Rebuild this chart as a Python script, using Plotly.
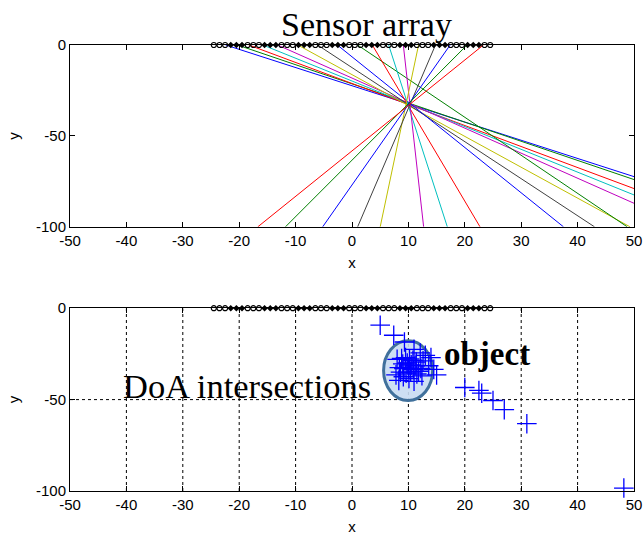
import plotly.graph_objects as go
from plotly.subplots import make_subplots

# ---------------- data ----------------
# DoA rays in the top panel: x where each ray leaves the array (y=0) and x where it reaches y=-100
ray_top_x = [-22.4, -20.3, -18.3, -15.8, -13.2, -9.6, -6.1, -2.6, 1.0, 3.6, 6.5, 9.1, 11.8, 14.8, 17.4, 20.4, 23.3]
ray_bottom_x = [77.6, 74.7, 68.2, 64.0, 59.4, 49.3, 43.0, 37.5, 48.8, 22.7, 16.9, 12.7, 5.0, 1.0, -5.2, -11.8, -16.7]
ray_colors = ["#0000FF", "#008000", "#FF0000", "#00BFBF", "#BF00BF", "#BFBF00", "#404040",
              "#0000FF", "#008000", "#FF0000", "#00BFBF", "#BF00BF", "#BFBF00", "#404040",
              "#0000FF", "#008000", "#FF0000"]
ray_y_top = 0
ray_y_bottom = -100

# sensor array elements (y = 0)
sensor_circle_x = [-24.5, -23.5, -22.5, -18.5, -17.5, -16.5, -12.5, -11.5, -10.5, -6.5, -5.5, -4.5,
                   -0.5, 0.5, 1.5, 5.5, 6.5, 7.5, 11.5, 12.5, 13.5, 17.5, 18.5, 19.5, 23.5, 24.5]
sensor_diamond_x = [-21.5, -20.5, -19.5, -15.5, -14.5, -13.5, -9.5, -8.5, -7.5, -3.5, -2.5, -1.5,
                    2.5, 3.5, 4.5, 8.5, 9.5, 10.5, 14.5, 15.5, 16.5, 20.5, 21.5, 22.5]

# DoA intersection points in the bottom panel
inter_x = [5.0, 7.4, 9.3,
           11.0, 12.1, 13.0, 14.0, 12.6, 13.6, 14.5, 15.0, 12.2,
           8.0, 8.8, 9.5, 10.2, 10.8, 11.4, 9.0, 9.8, 10.5, 11.2, 8.4, 9.2, 10.0, 10.9, 11.8,
           8.6, 9.6, 10.4, 11.5, 12.4, 7.8, 9.1, 10.1, 8.3, 11.0,
           20.0, 22.5, 23.0, 25.0, 27.0, 31.0, 48.2]
inter_y = [-9.3, -14.8, -18.5,
           -22.5, -24.5, -25.8, -27.0, -28.8, -31.5, -33.5, -36.5, -33.0,
           -28.0, -27.5, -27.0, -27.8, -28.5, -29.5, -30.5, -30.0, -31.0, -31.5, -32.5, -33.0, -32.8, -33.5, -34.5,
           -35.0, -35.5, -35.0, -36.0, -37.0, -36.5, -37.5, -38.5, -39.5, -40.0,
           -43.4, -45.0, -46.5, -50.5, -55.5, -63.2, -98.4]

x_ticks = [-50, -40, -30, -20, -10, 0, 10, 20, 30, 40, 50]
x_tick_labels = ["-50", "-40", "-30", "-20", "-10", "0", "10", "20", "30", "40", "50"]
y_ticks = [-100, -50, 0]
y_tick_labels = ["-100", "-50", "0"]
grid_x = [-40, -30, -20, -10, 0, 10, 20, 30, 40]
grid_y = [-50]

# ---------------- figure ----------------
fig = make_subplots(rows=2, cols=1)
TOP_DOMAIN = [0.5923, 1.0]
BOT_DOMAIN = [0.0, 0.4099]

for xt, xb, c in zip(ray_top_x, ray_bottom_x, ray_colors):
    fig.add_trace(go.Scatter(x=[xt, xb], y=[ray_y_top, ray_y_bottom], mode="lines",
                             line=dict(color=c, width=1), showlegend=False, hoverinfo="skip"),
                  row=1, col=1)

for r in (1, 2):
    fig.add_trace(go.Scatter(x=sensor_circle_x, y=[0] * len(sensor_circle_x), mode="markers",
                             marker=dict(symbol="circle-open", size=5, color="black", line=dict(width=1.2)),
                             cliponaxis=False, showlegend=False), row=r, col=1)
    fig.add_trace(go.Scatter(x=sensor_diamond_x, y=[0] * len(sensor_diamond_x), mode="markers",
                             marker=dict(symbol="diamond", size=5, color="black"),
                             cliponaxis=False, showlegend=False), row=r, col=1)

fig.add_trace(go.Scatter(x=inter_x, y=inter_y, mode="markers",
                         marker=dict(symbol="cross-thin", size=14, color="#0000FF",
                                     line=dict(width=1.3, color="#0000FF")),
                         cliponaxis=False, showlegend=False), row=2, col=1)

axis_font = dict(family="Liberation Sans, Arial, sans-serif", size=15, color="black")
common_x = dict(range=[-50, 50], tickvals=x_ticks, ticktext=x_tick_labels, ticks="inside", ticklen=5,
                tickcolor="black", showline=True, linecolor="black", linewidth=1, mirror="ticks",
                zeroline=False, tickfont=axis_font, title=dict(text="x", font=axis_font, standoff=9))
common_y = dict(range=[-100, 0], tickvals=y_ticks, ticktext=y_tick_labels, ticks="inside", ticklen=5,
                tickcolor="black", showline=True, linecolor="black", linewidth=1, mirror="ticks",
                zeroline=False, tickfont=axis_font, title=dict(text="y", font=axis_font, standoff=12))

fig.update_xaxes(**common_x, showgrid=False, row=1, col=1)
fig.update_yaxes(**common_y, showgrid=False, row=1, col=1)
fig.update_xaxes(**common_x, showgrid=False, row=2, col=1)
fig.update_yaxes(**common_y, showgrid=False, row=2, col=1)
fig.update_layout(yaxis=dict(domain=TOP_DOMAIN), yaxis2=dict(domain=BOT_DOMAIN),
                  xaxis=dict(domain=[0, 1]), xaxis2=dict(domain=[0, 1]))

# dotted grid in bottom panel
for gx in grid_x:
    fig.add_shape(type="line", xref="x2", yref="y2", x0=gx, x1=gx, y0=-100, y1=0,
                  line=dict(color="black", width=1, dash="3px,3px"), layer="below")
for gy in grid_y:
    fig.add_shape(type="line", xref="x2", yref="y2", x0=-50, x1=50, y0=gy, y1=gy,
                  line=dict(color="black", width=1, dash="3px,3px"), layer="below")

# highlighted object ellipse
fig.add_shape(type="circle", xref="x2", yref="y2", x0=5.6, x1=14.3, y0=-50.5, y1=-17.8,
              line=dict(color="#41719C", width=3), fillcolor="rgba(200,220,242,0.9)", layer="below")

serif = "Liberation Serif, Times New Roman, serif"
fig.add_annotation(text="Sensor array", xref="paper", yref="paper", x=0.5257, y=1.045,
                   xanchor="center", yanchor="middle",
                   showarrow=False, font=dict(family=serif, size=34, color="black"))
fig.add_annotation(text="DoA intersections", xref="x2", yref="y2", x=-18.6, y=-42.5,
                   xanchor="center", yanchor="middle",
                   showarrow=False, font=dict(family=serif, size=34.5, color="black"))
fig.add_annotation(text="<b>object</b>", xref="x2", yref="y2", x=23.9, y=-25.0,
                   xanchor="center", yanchor="middle",
                   showarrow=False, font=dict(family=serif, size=33, color="black"))

fig.update_layout(width=652, height=543, margin=dict(l=70, r=10, t=45, b=48),
                  paper_bgcolor="white", plot_bgcolor="white", showlegend=False)

fig.write_html("out.html", config={"displayModeBar": False},
               post_script="document.body.style.margin='0px';"
                           "document.body.style.overflow='hidden';"
                           "document.documentElement.style.overflow='hidden';")
